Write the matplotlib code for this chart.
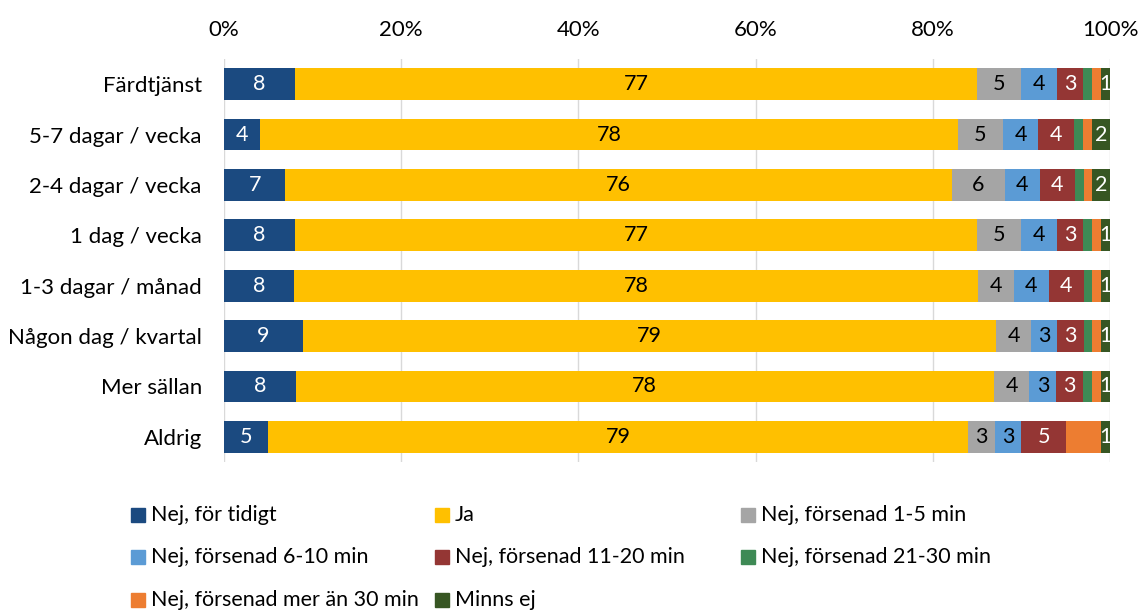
import matplotlib
matplotlib.use("Agg")
import matplotlib.pyplot as plt
from matplotlib.patches import Rectangle
import numpy as np

plt.rcParams['font.family'] = ['Lato', 'DejaVu Sans']

categories = ["Färdtjänst", "5-7 dagar / vecka", "2-4 dagar / vecka", "1 dag / vecka",
              "1-3 dagar / månad", "Någon dag / kvartal", "Mer sällan", "Aldrig"]

series_names = ["Nej, för tidigt", "Ja", "Nej, försenad 1-5 min", "Nej, försenad 6-10 min",
                "Nej, försenad 11-20 min", "Nej, försenad 21-30 min",
                "Nej, försenad mer än 30 min", "Minns ej"]

for_tidigt = [8, 4, 7, 8, 8, 9, 8, 5]
ja = [77, 78, 76, 77, 78, 79, 78, 79]
sen_1_5 = [5, 5, 6, 5, 4, 4, 4, 3]
sen_6_10 = [4, 4, 4, 4, 4, 3, 3, 3]
sen_11_20 = [3, 4, 4, 3, 4, 3, 3, 5]
sen_21_30 = [1, 1, 1, 1, 1, 1, 1, 0]
sen_30_plus = [1, 1, 1, 1, 1, 1, 1, 4]
minns_ej = [1, 2, 2, 1, 1, 1, 1, 1]

colors = ["#1B4A80", "#FFC000", "#A5A5A5", "#5B9BD5", "#943634", "#3E8A55", "#ED7D31", "#375623"]
label_colors = ["white", "black", "black", "black", "white", None, None, "white"]

data = np.array([for_tidigt, ja, sen_1_5, sen_6_10, sen_11_20, sen_21_30, sen_30_plus, minns_ej], dtype=float)
totals = data.sum(axis=0)
shares = data / totals * 100

W, H = 1138, 614
fig = plt.figure(figsize=(W / 100, H / 100), dpi=100)
ax = fig.add_axes([224 / W, 1 - 462 / H, (1110 - 224) / W, (462 - 59) / H])

y = np.arange(len(categories))
left = np.zeros(len(categories))
for i in range(len(series_names)):
    ax.barh(y, shares[i], left=left, height=0.63, color=colors[i], zorder=3)
    if label_colors[i] is not None:
        for j in range(len(categories)):
            if data[i, j] > 0:
                ax.text(left[j] + shares[i, j] / 2, y[j], f"{int(data[i, j])}",
                        ha="center", va="center", fontsize=15.5, color=label_colors[i], zorder=4)
    left += shares[i]

ax.set_xlim(0, 100)
ax.set_ylim(len(categories) - 0.5, -0.5)
ax.set_yticks(y)
ax.set_yticklabels(categories, fontsize=16)
ax.set_xticks(np.arange(0, 101, 20))
ax.set_xticklabels([f"{v}%" for v in range(0, 101, 20)], fontsize=16)
ax.xaxis.tick_top()
ax.tick_params(axis="both", length=0)
ax.tick_params(axis="x", pad=14)
ax.tick_params(axis="y", pad=16)
ax.grid(axis="x", color="#D9D9D9", linewidth=1, zorder=0)
for s in ax.spines.values():
    s.set_visible(False)

# Legend laid out in three fixed-width columns
col_x = [131, 435, 741]
row_y = [515, 557, 600]
for k, name in enumerate(series_names):
    r, c = divmod(k, 3)
    x0, y0 = col_x[c], row_y[r]
    fig.add_artist(Rectangle((x0 / W, 1 - (y0 + 7) / H), 14 / W, 14 / H,
                             transform=fig.transFigure, color=colors[k]))
    fig.text((x0 + 20) / W, 1 - y0 / H, name, fontsize=15.5, va="center", ha="left")

fig.savefig("out.png", dpi=100)
